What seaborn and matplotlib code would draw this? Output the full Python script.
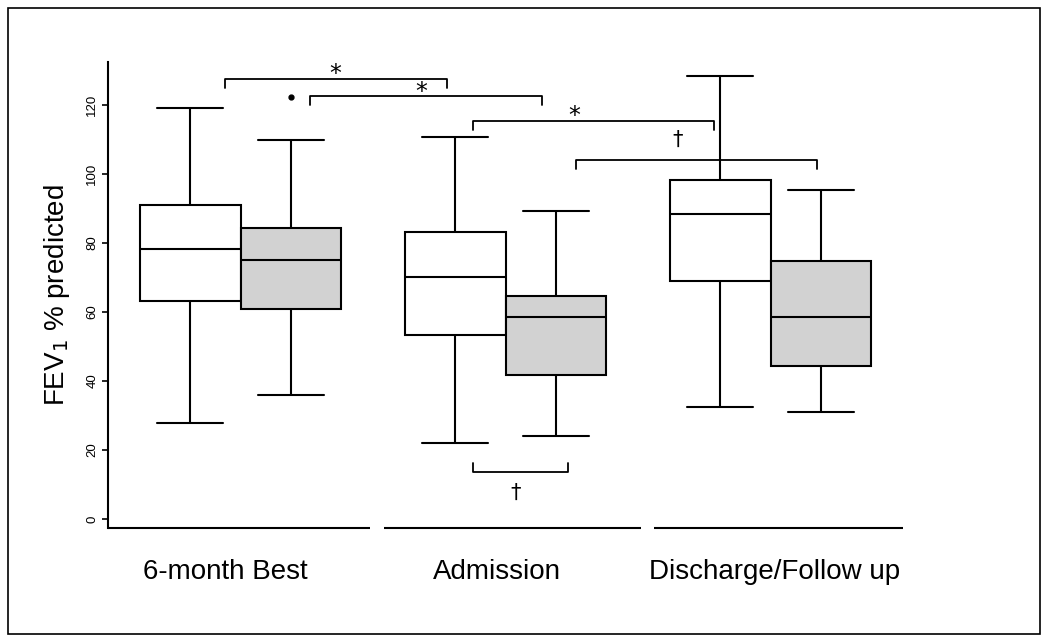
import numpy as np
import pandas as pd
import seaborn as sns
import matplotlib.pyplot as plt
from matplotlib.patches import Rectangle
import matplotlib.transforms as mtransforms

# ---- data ----
timepoints = ["6-month Best", "Admission", "Discharge/Follow up"]
groups = ["Group 1", "Group 2"]           # white boxes, grey boxes
# order of boxes: (6-month, G1), (6-month, G2), (Adm, G1), (Adm, G2), (Dis, G1), (Dis, G2)
whisker_low = [27.8, 35.9, 22.0, 24.1, 32.5, 31.0]
q1 = [63.2, 61.0, 53.3, 41.7, 69.0, 44.3]
median = [78.3, 75.1, 70.1, 58.6, 88.4, 58.6]
q3 = [91.1, 84.3, 83.2, 64.6, 98.3, 74.8]
whisker_high = [119.1, 109.9, 110.7, 89.3, 128.4, 95.4]
outliers = [[], [122.3], [], [], [], []]
y_ticks = [0, 20, 40, 60, 80, 100, 120]

# significance annotations: (x_left, x_right, y_line, tick_dir, symbol, symbol_x, symbol_y)
brackets = [
    (-0.058, 0.779, 127.5, -1, "*", 0.356, 128.9),
    (0.263, 1.138, 122.5, -1, "*", 0.681, 123.9),
    (0.877, 1.786, 115.4, -1, "*", 1.258, 116.8),
    (1.266, 2.175, 104.1, -1, "\u2020", 1.651, 110.0),
    (0.877, 1.235, 13.6, 1, "\u2020", 1.040, 7.6),
]

# ---- build a sample per box that reproduces the five-number summary ----
rows = []
i = 0
for tp in timepoints:
    for g in groups:
        vals = [whisker_low[i], q1[i], q1[i], median[i], median[i], q3[i], q3[i], whisker_high[i]] + outliers[i]
        for v in vals:
            rows.append({"timepoint": tp, "group": g, "fev1": v})
        i += 1
df = pd.DataFrame(rows)

sns.set_style("ticks")
plt.rcParams["font.family"] = ["Liberation Sans", "DejaVu Sans"]
plt.rcParams["text.color"] = "black"
plt.rcParams["axes.labelcolor"] = "black"
plt.rcParams["xtick.color"] = "black"
plt.rcParams["ytick.color"] = "black"

fig = plt.figure(figsize=(10.5, 6.44), dpi=100)
ax = fig.add_axes([108 / 1050, 1 - 528 / 644, 795 / 1050, 466 / 644])

sns.boxplot(
    data=df, x="timepoint", y="fev1", hue="group",
    order=timepoints, hue_order=groups,
    palette=["white", "#d2d2d2"], saturation=1,
    width=0.76, gap=0, linewidth=1.5, linecolor="black",
    whis=1.5, fliersize=3.5,
    flierprops=dict(marker="o", markerfacecolor="black", markeredgecolor="black"),
    capwidths=0.25, legend=False, ax=ax,
)

ax.set_xlim(-0.5, 2.5)
ax.set_ylim(-2.6, 132.5)
ax.set_yticks(y_ticks)
ax.set_yticklabels([str(t) for t in y_ticks])
ax.tick_params(axis="y", labelrotation=90, length=4, width=1.2, labelsize=9.5, pad=3,
               color="black", labelcolor="black")
ax.tick_params(axis="x", length=0, pad=22, labelsize=20, labelcolor="black")
for lab in ax.get_yticklabels():
    lab.set_va("center")
# nudge category labels as placed in the reference
for lab, dx in zip(ax.get_xticklabels(), [-15, -9, 4]):
    lab.set_transform(lab.get_transform() + mtransforms.ScaledTranslation(dx / 100, 0, fig.dpi_scale_trans))
ax.set_xlabel("")
ax.set_ylabel(r"FEV$_1$ % predicted", fontsize=20, color="black")
ax.yaxis.set_label_coords(-0.045, 0.5)

for side in ["top", "right", "bottom"]:
    ax.spines[side].set_visible(False)
ax.spines["left"].set_linewidth(1.5)
ax.spines["left"].set_color("black")

# broken x-axis: one segment per time point
trans = mtransforms.blended_transform_factory(ax.transData, ax.transAxes)
for seg in [(-0.5, 0.49), (0.54, 1.51), (1.56, 2.5)]:
    ax.plot(seg, [0, 0], color="black", lw=1.5, transform=trans, clip_on=False, solid_capstyle="butt")

# significance brackets
tick_len = 2.5
for xl, xr, yl, d, sym, sx, sy in brackets:
    ax.plot([xl, xl, xr, xr], [yl + d * tick_len, yl, yl, yl + d * tick_len],
            color="black", lw=1.3, clip_on=False)
    fs = 17 if sym == "*" else 15
    ax.text(sx, sy, sym, ha="center", va="center", fontsize=fs, family="DejaVu Sans", color="black")

# outer frame
fig.add_artist(Rectangle((8 / 1050, 10 / 644), 1032 / 1050, 626 / 644,
                         transform=fig.transFigure, fill=False, lw=1.2, ec="black"))

fig.savefig("out.png", dpi=100)
